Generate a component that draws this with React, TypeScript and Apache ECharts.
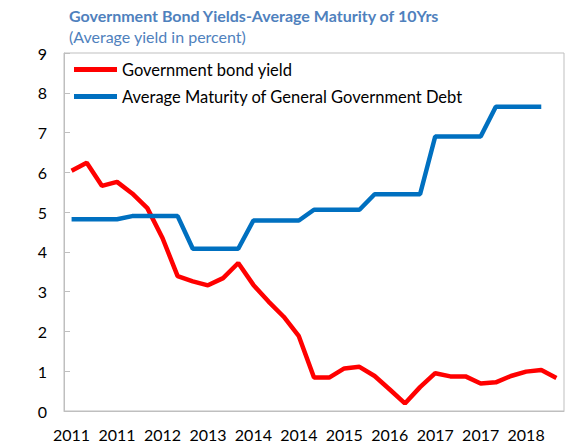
import React, { useEffect, useRef } from "react";
import * as echarts from "echarts";

const categories = [
  "2011", "2011", "2011", "2011",
  "2012", "2012", "2012", "2012",
  "2013", "2013", "2013", "2013",
  "2014", "2014", "2014", "2014",
  "2015", "2015", "2015", "2015",
  "2016", "2016", "2016", "2016",
  "2017", "2017", "2017", "2017",
  "2018", "2018", "2018", "2018",
  "2019",
];

const bondYield = [
  6.04, 6.24, 5.66, 5.76, 5.47, 5.1, 4.35, 3.39,
  3.26, 3.16, 3.34, 3.72, 3.17, 2.75, 2.37, 1.88,
  0.84, 0.84, 1.07, 1.11, 0.88, 0.54, 0.19, 0.6,
  0.95, 0.87, 0.87, 0.69, 0.72, 0.88, 0.99, 1.03,
  0.83,
];

const avgMaturity: (number | null)[] = [
  4.82, 4.82, 4.82, 4.82, 4.9, 4.9, 4.9, 4.9,
  4.08, 4.08, 4.08, 4.08, 4.79, 4.79, 4.79, 4.79,
  5.06, 5.06, 5.06, 5.06, 5.45, 5.45, 5.45, 5.45,
  6.9, 6.9, 6.9, 6.9, 7.65, 7.65, 7.65, 7.65,
  null,
];

const seriesNames = ["Government bond yield", "Average Maturity of General Government Debt"];
const titleText = "Government Bond Yields-Average Maturity of 10Yrs";
const subtitleText = "(Average yield in percent)";

const FONT = "Lato, 'Noto Sans', sans-serif";

export default function App() {
  const ref = useRef<HTMLDivElement>(null);
  useEffect(() => {
    if (!ref.current) return;
    const chart = echarts.init(ref.current, undefined, { renderer: "svg" });
    chart.setOption({
      animation: false,
      textStyle: { fontFamily: FONT },
      title: [
        {
          text: titleText,
          left: 64,
          top: 2,
          textStyle: { fontFamily: FONT, fontSize: 16, fontWeight: "bold", color: "#4f81bd" },
        },
        {
          text: subtitleText,
          left: 64,
          top: 23,
          textStyle: { fontFamily: FONT, fontSize: 16, fontWeight: "normal", color: "#4f81bd" },
        },
      ],
      legend: {
        orient: "vertical",
        left: 74,
        top: 61,
        padding: 0,
        icon: "rect",
        itemWidth: 43,
        itemHeight: 5,
        itemGap: 10,
        textStyle: { fontFamily: FONT, fontSize: 16.5, color: "#000" },
        data: seriesNames,
      },
      grid: {
        left: 64,
        right: 4,
        top: 53,
        bottom: 34,
        show: true,
        borderColor: "#bfbfbf",
        borderWidth: 1,
      },
      xAxis: {
        type: "category",
        data: categories,
        boundaryGap: true,
        axisLine: { lineStyle: { color: "#bfbfbf" } },
        axisTick: { show: false },
        axisLabel: { interval: 2, fontSize: 16, color: "#000", margin: 15, fontFamily: FONT },
      },
      yAxis: {
        type: "value",
        min: 0,
        max: 9,
        interval: 1,
        axisLine: { show: true, lineStyle: { color: "#bfbfbf" } },
        axisTick: { show: true, inside: true, length: 6, lineStyle: { color: "#bfbfbf" } },
        splitLine: { show: false },
        axisLabel: { fontSize: 16, color: "#000", margin: 17, fontFamily: FONT },
      },
      series: [
        {
          name: seriesNames[0],
          type: "line",
          data: bondYield,
          symbol: "none",
          lineStyle: { color: "#ff0000", width: 4.5 },
          itemStyle: { color: "#ff0000" },
        },
        {
          name: seriesNames[1],
          type: "line",
          data: avgMaturity,
          symbol: "none",
          lineStyle: { color: "#0070c0", width: 4.5 },
          itemStyle: { color: "#0070c0" },
        },
      ],
    });
    return () => chart.dispose();
  }, []);
  return (
    <div
      ref={ref}
      style={{ position: "absolute", left: 0, top: 0, width: 568, height: 445 }}
    />
  );
}
